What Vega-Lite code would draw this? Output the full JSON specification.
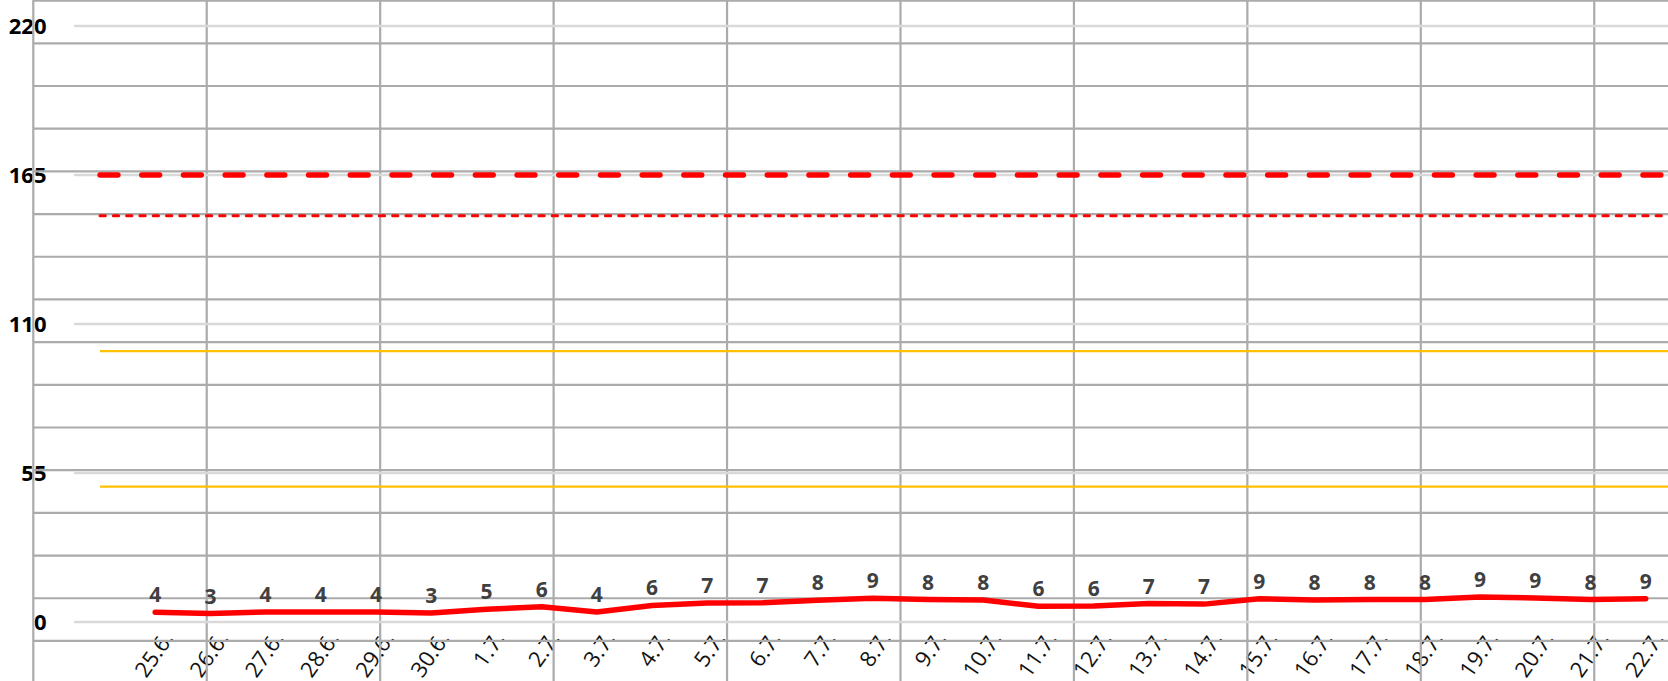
{
  "$schema": "https://vega.github.io/schema/vega-lite/v6.json",
  "autosize": "none",
  "width": 1594,
  "height": 596,
  "padding": {"left": 74, "top": 26, "right": 0, "bottom": 59},
  "background": "white",
  "config": {"view": {"stroke": null}},
  "datasets": {
    "series": [
      {"d": "25.6.", "v": 3.6},
      {"d": "26.6.", "v": 3.1},
      {"d": "27.6.", "v": 3.7},
      {"d": "28.6.", "v": 3.7},
      {"d": "29.6.", "v": 3.7},
      {"d": "30.6.", "v": 3.3},
      {"d": "1.7.", "v": 4.7},
      {"d": "2.7.", "v": 5.6},
      {"d": "3.7.", "v": 3.7},
      {"d": "4.7.", "v": 6.1},
      {"d": "5.7.", "v": 7.0},
      {"d": "6.7.", "v": 7.1},
      {"d": "7.7.", "v": 8.0},
      {"d": "8.7.", "v": 8.8},
      {"d": "9.7.", "v": 8.3},
      {"d": "10.7.", "v": 8.1},
      {"d": "11.7.", "v": 5.8},
      {"d": "12.7.", "v": 5.9},
      {"d": "13.7.", "v": 6.8},
      {"d": "14.7.", "v": 6.6},
      {"d": "15.7.", "v": 8.6},
      {"d": "16.7.", "v": 8.1},
      {"d": "17.7.", "v": 8.3},
      {"d": "18.7.", "v": 8.3},
      {"d": "19.7.", "v": 9.2},
      {"d": "20.7.", "v": 8.9},
      {"d": "21.7.", "v": 8.3},
      {"d": "22.7.", "v": 8.6}
    ]
  },
  "layer": [
    {
      "layer": [
        {
          "data": {"values": [{"r": 0}, {"r": 1}, {"r": 2}, {"r": 3}, {"r": 4}, {"r": 5}, {"r": 6}, {"r": 7}, {"r": 8}, {"r": 9}, {"r": 10}, {"r": 11}, {"r": 12}, {"r": 13}, {"r": 14}, {"r": 15}]},
          "mark": {"type": "rule", "color": "#ababab", "strokeWidth": 2.2},
          "encoding": {
            "y": {"field": "r", "type": "quantitative", "scale": {"domain": [0.595, 14.556], "reverse": true, "nice": false, "zero": false}, "axis": null},
            "x": {"datum": 0, "type": "quantitative", "scale": {"domain": [0.2347, 9.4253], "nice": false, "zero": false}, "axis": null},
            "x2": {"datum": 11}
          }
        },
        {
          "data": {"values": [{"c": 0}, {"c": 1}, {"c": 2}, {"c": 3}, {"c": 4}, {"c": 5}, {"c": 6}, {"c": 7}, {"c": 8}, {"c": 9}]},
          "mark": {"type": "rule", "color": "#ababab", "strokeWidth": 2.2},
          "encoding": {
            "x": {"field": "c", "type": "quantitative", "scale": {"domain": [0.2347, 9.4253], "nice": false, "zero": false}, "axis": null},
            "y": {"datum": -1, "type": "quantitative", "scale": {"domain": [0.595, 14.556], "reverse": true, "nice": false, "zero": false}, "axis": null},
            "y2": {"datum": 17}
          }
        }
      ]
    },
    {
      "layer": [
        {
          "data": {"values": [{"v": 0}, {"v": 55}, {"v": 110}, {"v": 165}, {"v": 220}]},
          "mark": {"type": "rule", "color": "#d9d9d9", "strokeWidth": 2.3},
          "encoding": {
            "y": {
              "field": "v", "type": "quantitative",
              "scale": {"domain": [0, 220], "nice": false},
              "axis": {
                "values": [0, 55, 110, 165, 220],
                "grid": false, "ticks": false, "domain": false,
                "labelFont": "Open Sans", "labelFontSize": 22, "labelFontWeight": "bold",
                "labelColor": "#000000", "labelPadding": 28, "title": null
              }
            }
          }
        },
        {
          "data": {"values": [{"v": 50}, {"v": 100}]},
          "mark": {"type": "rule", "color": "#ffc000", "strokeWidth": 2.3},
          "encoding": {
            "x": {"datum": " ", "type": "ordinal"},
            "x2": {"datum": "  "},
            "y": {"field": "v", "type": "quantitative"}
          }
        },
        {
          "data": {"values": [{"v": 150}]},
          "mark": {"type": "rule", "color": "#ff0000", "strokeWidth": 3, "strokeDash": [5.3, 8], "strokeCap": "round"},
          "encoding": {
            "x": {"datum": " ", "type": "ordinal"},
            "x2": {"datum": "  "},
            "y": {"field": "v", "type": "quantitative"}
          }
        },
        {
          "data": {"values": [{"v": 165}]},
          "mark": {"type": "rule", "color": "#ff0000", "strokeWidth": 5.3, "strokeDash": [18, 23.7], "strokeCap": "round"},
          "encoding": {
            "x": {"datum": " ", "type": "ordinal"},
            "x2": {"datum": "  "},
            "y": {"field": "v", "type": "quantitative"}
          }
        },
        {
          "data": {"name": "series"},
          "mark": {"type": "line", "color": "#ff0000", "strokeWidth": 5.5, "strokeCap": "round", "strokeJoin": "round"},
          "encoding": {
            "x": {
              "field": "d", "type": "ordinal", "sort": null,
              "scale": {
                "type": "point", "padding": 0, "range": [26, 1626.9],
                "domain": [" ", "25.6.", "26.6.", "27.6.", "28.6.", "29.6.", "30.6.", "1.7.", "2.7.", "3.7.", "4.7.", "5.7.", "6.7.", "7.7.", "8.7.", "9.7.", "10.7.", "11.7.", "12.7.", "13.7.", "14.7.", "15.7.", "16.7.", "17.7.", "18.7.", "19.7.", "20.7.", "21.7.", "22.7.", "  "]
              },
              "axis": {
                "title": null, "domain": false, "ticks": false, "grid": false,
                "labelAngle": -55, "labelAlign": "right", "labelBaseline": "middle",
                "labelPadding": 12, "labelOffset": 13,
                "labelFont": "Open Sans", "labelFontSize": 22, "labelColor": "#111111",
                "labelOverlap": false, "labelBound": false, "labelFlush": false
              }
            },
            "y": {"field": "v", "type": "quantitative"}
          }
        },
        {
          "data": {"name": "series"},
          "mark": {"type": "text", "dy": -16, "baseline": "middle", "align": "center", "font": "Open Sans", "fontSize": 21, "fontWeight": "bold", "color": "#404040"},
          "encoding": {
            "x": {"field": "d", "type": "ordinal", "sort": null},
            "y": {"field": "v", "type": "quantitative"},
            "text": {"field": "v", "type": "quantitative", "format": ".0f"}
          }
        }
      ]
    }
  ],
  "resolve": {"scale": {"x": "independent", "y": "independent"}}
}
